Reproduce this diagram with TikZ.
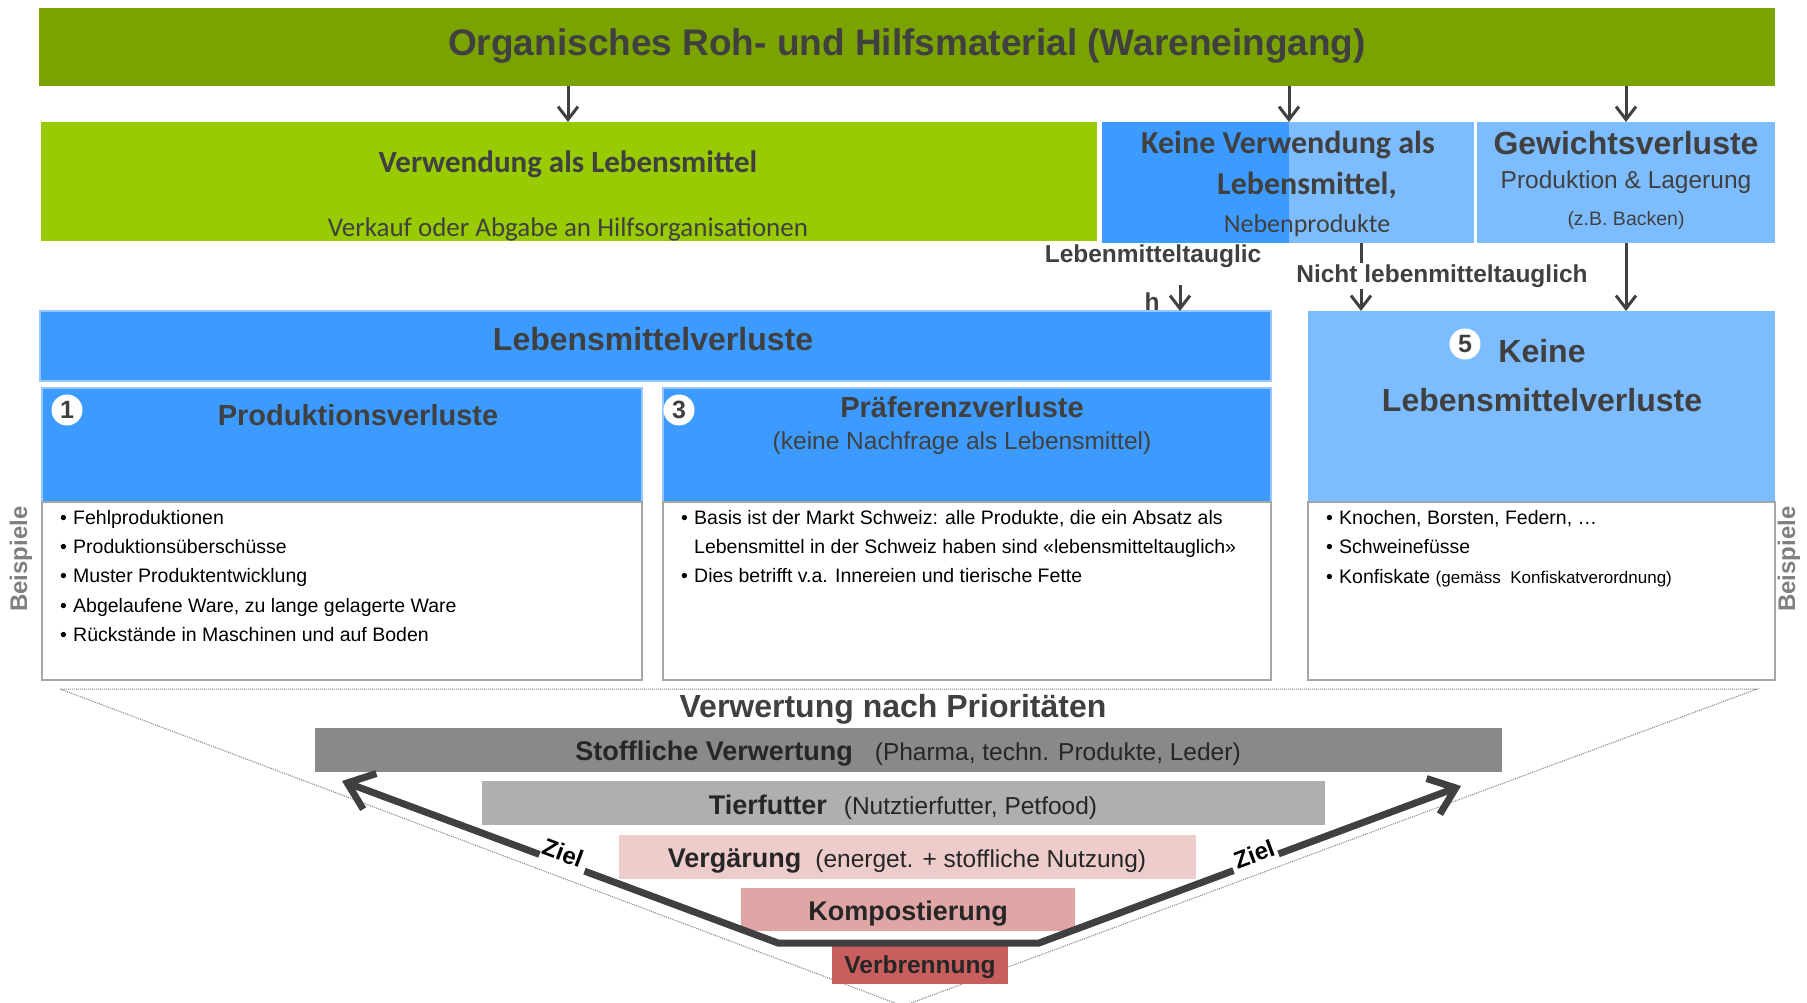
\documentclass[tikz,border=0pt]{standalone}
\usepackage{fontspec}
\setmainfont{Liberation Sans}
\newfontfamily\calibrifam{Carlito}
\usetikzlibrary{arrows.meta}
\definecolor{topgreen}{RGB}{122,163,0}
\definecolor{lightgreen}{RGB}{153,204,0}
\definecolor{darkblue}{RGB}{61,155,255}
\definecolor{lightblue}{RGB}{125,189,255}
\definecolor{blueline}{RGB}{150,200,255}
\definecolor{txt}{RGB}{64,64,64}
\definecolor{bartext}{RGB}{38,38,38}
\definecolor{bodyline}{RGB}{166,166,166}
\definecolor{barA}{RGB}{137,137,137}
\definecolor{barB}{RGB}{175,175,175}
\definecolor{barC}{RGB}{238,204,204}
\definecolor{barD}{RGB}{224,166,166}
\definecolor{barE}{RGB}{201,94,94}
\definecolor{beigray}{RGB}{128,128,128}
\newcommand{\fsz}[1]{\fontsize{#1}{#1}\selectfont}
\newcommand{\bul}{\makebox[13pt][l]{•}}
\begin{document}
\begin{tikzpicture}[x=1pt,y=-1pt,
  box/.style={rectangle, inner sep=0pt, outer sep=0pt, anchor=north west},
  hdr/.style={text=txt, font=\bfseries\fsz{32}, inner sep=0pt},
  sub/.style={text=txt, font=\fsz{24.5}, inner sep=0pt},
  lbl/.style={text=txt, font=\bfseries\fsz{24.5}, inner sep=0pt},
  item/.style={anchor=mid west, inner sep=0pt, font=\fsz{19.5}, text=black},
  numcirc/.style={circle, fill=white, inner sep=0pt, minimum size=31pt, font=\bfseries\fsz{25}, text=txt},
  arr/.style={draw=txt, line width=3pt, -{Straight Barb[length=13pt,width=20pt]}},
  zielline/.style={draw=txt, line width=7pt},
  zielarr/.style={draw=txt, line width=7pt, -{Straight Barb[length=24pt,width=38pt]}},
  bartxt/.style={text=bartext, font=\fsz{24.5}},
  beisp/.style={text=beigray, font=\bfseries\fsz{24}, inner sep=0pt, rotate=90},
  zieltxt/.style={font=\bfseries\fsz{24}, text=black, inner sep=0pt}
]
\useasboundingbox (0,0) rectangle (1807,1003);

% ---------- dotted funnel ----------
\coordinate (f1) at (60,689);
\coordinate (f2) at (1757,689);
\coordinate (f3) at (903,1006);
\draw[beigray, line width=1pt, dash pattern=on 1pt off 1pt] (f1) -- (f2) -- (f3) -- cycle;

% ---------- top row ----------
\node[box, fill=topgreen, minimum width=1736pt, minimum height=78pt] (top) at (39,8) {};
\node[text=txt, font=\bfseries\fsz{37}, inner sep=0pt] (toptxt) at (907,46) {Organisches Roh- und Hilfsmaterial (Wareneingang)};

% ---------- second row ----------
\node[box, fill=lightgreen, draw=white, line width=1pt, minimum width=1057pt, minimum height=120pt] (green) at (40,122) {};
\node[text=txt, font=\calibrifam\bfseries\fsz{31}, inner sep=0pt] (greent1) at (568,164) {Verwendung als Lebensmittel};
\node[text=txt, font=\calibrifam\fsz{27}, inner sep=0pt] (greent2) at (568,229) {Verkauf oder Abgabe an Hilfsorganisationen};

\node[box, fill=lightblue, minimum width=372pt, minimum height=121pt] (kvw) at (1102,122) {};
\fill[darkblue] (1102,122) rectangle (1289,243);
\node[text=txt, font=\calibrifam\bfseries\fsz{32}, inner sep=0pt] (kvwt1) at (1288,145) {Keine Verwendung als};
\node[text=txt, font=\calibrifam\bfseries\fsz{32}, inner sep=0pt] (kvwt2) at (1307,185) {Lebensmittel,};
\node[text=txt, font=\calibrifam\fsz{26}, inner sep=0pt] (kvwt3) at (1307,226) {Nebenprodukte};

\node[box, fill=lightblue, minimum width=298pt, minimum height=121pt] (gew) at (1477,122) {};
\node[hdr] (gewt1) at (1626,143) {Gewichtsverluste};
\node[sub] (gewt2) at (1626,182) {Produktion \& Lagerung};
\node[text=txt, font=\fsz{19.5}, inner sep=0pt] (gewt3) at (1626,220) {(z.B. Backen)};

% arrows from top
\coordinate (ax1) at (568,0);
\coordinate (ax2) at (1289,0);
\coordinate (ax3) at (1626,0);
\draw[arr] (top.south -| ax1) -- (green.north -| ax1);
\draw[arr] (top.south -| ax2) -- (kvw.north -| ax2);
\draw[arr] (top.south -| ax3) -- (gew.north -| ax3);

% ---------- third row ----------
\node[box, fill=darkblue, draw=blueline, line width=1.5pt, minimum width=1231pt, minimum height=70pt] (lmv) at (40,311) {};
\node[hdr] (lmvt) at (653,339) {Lebensmittelverluste};

\node[box, fill=darkblue, draw=blueline, line width=1.5pt, minimum width=600pt, minimum height=114pt] (prodh) at (42,388) {};
\node[box, fill=white, draw=bodyline, line width=2pt, minimum width=600pt, minimum height=178pt] (prodb) at (42,502) {};
\node[numcirc] (n1) at (67,410) {1};
\node[hdr, font=\bfseries\fsz{29}] (prodt) at (358,415) {Produktionsverluste};

\node[box, fill=darkblue, draw=blueline, line width=1.5pt, minimum width=608pt, minimum height=114pt] (prefh) at (663,388) {};
\node[box, fill=white, draw=bodyline, line width=2pt, minimum width=608pt, minimum height=178pt] (prefb) at (663,502) {};
\node[numcirc] (n3) at (679,410) {3};
\node[hdr, font=\bfseries\fsz{29}] (preft1) at (962,407) {Präferenzverluste};
\node[sub] (preft2) at (962,443) {(keine Nachfrage als Lebensmittel)};

\node[box, fill=lightblue, minimum width=467pt, minimum height=191pt] (klvh) at (1308,311) {};
\node[box, fill=white, draw=bodyline, line width=2pt, minimum width=467pt, minimum height=178pt] (klvb) at (1308,502) {};
\node[numcirc] (n5) at (1465,344) {5};
\node[hdr] (klvt1) at (1542,351) {Keine};
\node[hdr] (klvt2) at (1542,400) {Lebensmittelverluste};

% labels and arrows to third row
\node[lbl] (lt1) at (1153,256) {Lebenmitteltauglic};
\node[lbl] (lt2) at (1152,302) {h};
\coordinate (la) at (1180,285);
\draw[arr] (la) -- (lmv.north -| la);

\coordinate (nb) at (1361,263);
\coordinate (na) at (1361,289);
\draw[draw=txt, line width=3pt] (kvw.south -| nb) -- (nb);
\node[lbl] (nlt) at (1442,276) {Nicht lebenmitteltauglich};
\draw[arr] (na) -- (klvh.north -| na);

\draw[arr] (gew.south -| ax3) -- (klvh.north -| ax3);

% Beispiele
\node[beisp] (bl) at (21,559) {Beispiele};
\node[beisp] (br) at (1789,559) {Beispiele};

% items
\node[item] (p1) at (60,522) {\bul Fehlproduktionen};
\node[item] (p2) at (60,551) {\bul Produktionsüberschüsse};
\node[item] (p3) at (60,580) {\bul Muster Produktentwicklung};
\node[item] (p4) at (60,610) {\bul Abgelaufene Ware, zu lange gelagerte Ware};
\node[item] (p5) at (60,639) {\bul Rückstände in Maschinen und auf Boden};

\node[item] (q1) at (681,522) {\bul Basis ist der Markt Schweiz: alle Produkte, die ein Absatz als};
\node[item] (q2) at (694,551) {Lebensmittel in der Schweiz haben sind «lebensmitteltauglich»};
\node[item] (q3) at (681,580) {\bul Dies betrifft v.a. Innereien und tierische Fette};

\node[item] (k1) at (1326,522) {\bul Knochen, Borsten, Federn, …};
\node[item] (k2) at (1326,551) {\bul Schweinefüsse};
\node[item] (k3) at (1326,581) {\bul Konfiskate {\fsz{17}(gemäss\ \ Konfiskatverordnung)}};

% ---------- bottom: priorities ----------
\node[hdr] (vnp) at (893,709) {Verwertung nach Prioritäten};

\node[box, fill=barA, minimum width=1187pt, minimum height=44pt] (b1) at (315,728) {};
\node[bartxt] (b1t) at (908,754) {\bfseries\fsz{27}Stoffliche Verwertung\hspace{22pt}\mdseries\fsz{24.5}(Pharma, techn. Produkte, Leder)};
\node[box, fill=barB, minimum width=843pt, minimum height=44pt] (b2) at (482,781) {};
\node[bartxt] (b2t) at (903,807) {\bfseries\fsz{27}Tierfutter\hspace{17pt}\mdseries\fsz{24.5}(Nutztierfutter, Petfood)};
\node[box, fill=barC, minimum width=577pt, minimum height=44pt] (b3) at (619,835) {};
\node[bartxt] (b3t) at (907,861) {\bfseries\fsz{27}Vergärung\hspace{14pt}\mdseries\fsz{24.5}(energet. + stoffliche Nutzung)};
\node[box, fill=barD, minimum width=334pt, minimum height=43pt] (b4) at (741,888) {};
\node[bartxt] (b4t) at (908,914) {\bfseries\fsz{27}Kompostierung};
\node[box, fill=barE, minimum width=176pt, minimum height=39pt] (b5) at (832,945) {};
\node[bartxt] (b5t) at (920,967) {\bfseries\fsz{24.5}Verbrennung};

% Ziel arrows (line broken where the labels sit)
\coordinate (zl) at (342,781);
\coordinate (gl1) at (539.5,854.4);
\coordinate (gl2) at (584.5,871.1);
\coordinate (cl) at (778,943);
\coordinate (cr) at (1039,943);
\coordinate (gr1) at (1233.5,870.6);
\coordinate (gr2) at (1278.5,853.9);
\coordinate (zr) at (1461,786);
\draw[zielarr] (gl1) -- (zl);
\draw[zielline, line join=miter] (gl2) -- (cl) -- (cr) -- (gr1);
\draw[zielarr] (gr2) -- (zr);
\node[zieltxt, rotate=-20.4] (zlt) at (563,853) {Ziel};
\node[zieltxt, rotate=20.4] (zrt) at (1254,854) {Ziel};
\end{tikzpicture}
\end{document}
